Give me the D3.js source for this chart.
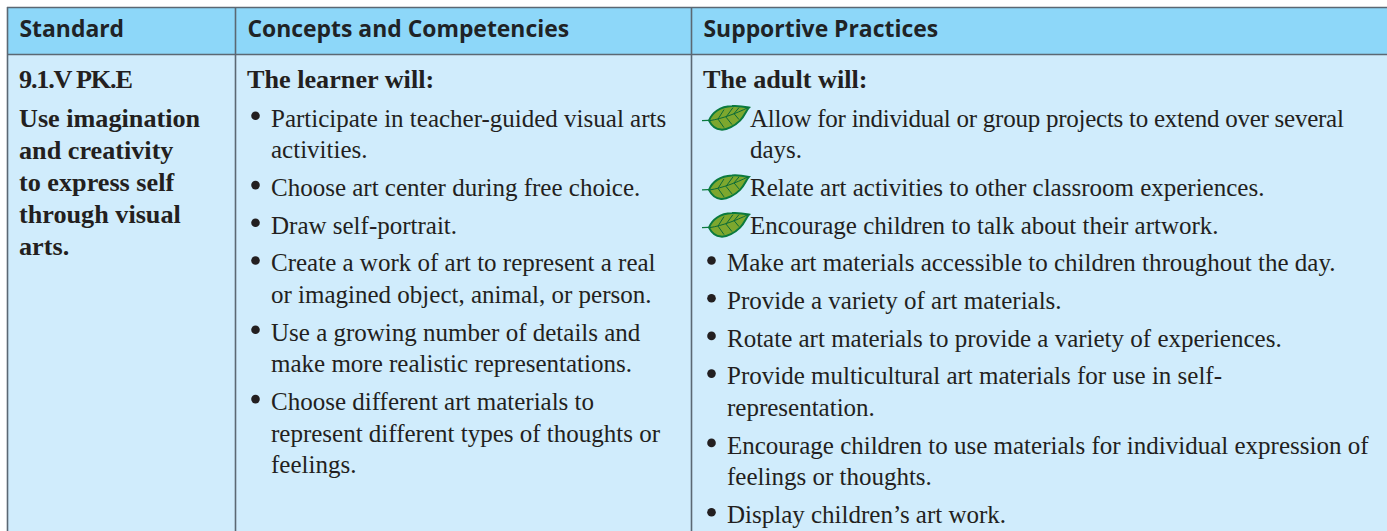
<!DOCTYPE html>
<html>
<head>
<meta charset="utf-8">
<style>
html,body{margin:0;padding:0;background:#fff;overflow:hidden}
.hd{font-family:"Open Sans",sans-serif;font-weight:700;font-size:22.9px;fill:#1f2326}
.bold{font-family:"Liberation Serif",serif;font-weight:700;font-size:26.2px;fill:#231f20}
.body{font-family:"Liberation Serif",serif;font-size:25px;fill:#231f20}
</style>
</head>
<body>
<svg id="chart"></svg>
<script src="https://cdn.jsdelivr.net/npm/d3@7"></script>
<script>
const W = 1387, H = 531;

const columns = ['Standard', 'Concepts and Competencies', 'Supportive Practices'];

const standardLines = ['9.1.V PK.E', 'Use imagination', 'and creativity', 'to express self', 'through visual', 'arts.'];

const learnerHead = 'The learner will:';
const learnerItems = [
  ['Participate in teacher-guided visual arts', 'activities.'],
  ['Choose art center during free choice.'],
  ['Draw self-portrait.'],
  ['Create a work of art to represent a real', 'or imagined object, animal, or person.'],
  ['Use a growing number of details and', 'make more realistic representations.'],
  ['Choose different art materials to', 'represent different types of thoughts or', 'feelings.'],
];

const adultHead = 'The adult will:';
const adultLeafItems = [
  ['Allow for individual or group projects to extend over several', 'days.'],
  ['Relate art activities to other classroom experiences.'],
  ['Encourage children to talk about their artwork.'],
];
const adultItems = [
  ['Make art materials accessible to children throughout the day.'],
  ['Provide a variety of art materials.'],
  ['Rotate art materials to provide a variety of experiences.'],
  ['Provide multicultural art materials for use in self-', 'representation.'],
  ['Encourage children to use materials for individual expression of', 'feelings or thoughts.'],
  ["Display children\u2019s art work."],
];

const LINE = 31.6, PARA = 37.7, TOP = 126.6;

const svg = d3.select('#chart').attr('width', W).attr('height', H).style('display', 'block');

const x = d3.scaleOrdinal().domain(columns).range([7, 235, 691]);
const colRight = d3.scaleOrdinal().domain(columns).range([235, 691, W]);

// bands
svg.selectAll('rect.bg').data(columns).join('rect')
  .attr('x', d => x(d)).attr('y', 54).attr('width', d => colRight(d) - x(d)).attr('height', H - 54)
  .attr('fill', '#d0ecfc');
svg.selectAll('rect.hdbg').data(columns).join('rect')
  .attr('x', d => x(d)).attr('y', 7).attr('width', d => colRight(d) - x(d)).attr('height', 47)
  .attr('fill', '#8dd7f9');

// rules
const rule = '#5b6873';
svg.append('path').attr('d', `M7,7.5H${W}M7,54.5H${W}`).attr('stroke', rule).attr('stroke-width', 1.4).attr('fill', 'none');
svg.selectAll('line.v').data(columns).join('line')
  .attr('x1', d => x(d) + .5).attr('x2', d => x(d) + .5).attr('y1', 7).attr('y2', H)
  .attr('stroke', rule).attr('stroke-width', 1.6);

svg.selectAll('text.hd').data(columns).join('text')
  .attr('class', 'hd').attr('x', d => x(d) + 12.5).attr('y', 37).text(d => d);

// Column 1
svg.selectAll('text.std').data(standardLines).join('text')
  .attr('class', 'bold')
  .attr('x', x(columns[0]) + 12)
  .attr('y', (d, i) => i === 0 ? 88 : TOP + (i - 1) * 32)
  .style('letter-spacing', (d, i) => i === 0 ? '-1.2px' : null)
  .text(d => d);

// turns items into positioned lines
function layout(items, startY) {
  const out = [];
  let y = startY;
  items.forEach((lines, k) => {
    lines.forEach((t, j) => {
      out.push({t, y, first: j === 0, k});
      if (j < lines.length - 1) y += LINE;
    });
    y += PARA;
  });
  return out;
}

function drawList(g, rows, textX, bulletX) {
  g.selectAll('text').data(rows).join('text')
    .attr('class', 'body').attr('x', textX).attr('y', d => d.y).text(d => d.t);
  if (bulletX != null) {
    g.selectAll('circle').data(rows.filter(d => d.first)).join('circle')
      .attr('cx', bulletX).attr('cy', d => d.y - 10.8).attr('r', 4.3).attr('fill', '#231f20');
  }
}

// Column 2
const col2 = x(columns[1]);
svg.append('text').attr('class', 'bold').attr('x', col2 + 12).attr('y', 88).text(learnerHead);
drawList(svg.append('g'), layout(learnerItems, TOP), col2 + 36, col2 + 20.5);

// Column 3
const col3 = x(columns[2]);
svg.append('text').attr('class', 'bold').attr('x', col3 + 12).attr('y', 88).text(adultHead);

const leafRows = layout(adultLeafItems, TOP);
const lastLeafY = leafRows[leafRows.length - 1].y;
const leafText = svg.append('g');
drawList(leafText, leafRows, col3 + 59);
// the first line is set tighter in the original
leafText.selectAll('text').filter(d => d.t.startsWith('Allow')).style('letter-spacing', '-.25px');
drawList(svg.append('g'), layout(adultItems, lastLeafY + PARA), col3 + 36, col3 + 20.5);

// Leaf icons, drawn relative to the text baseline
const leaves = svg.append('g').selectAll('g').data(leafRows.filter(d => d.first)).join('g')
  .attr('transform', d => `translate(${col3 + 11},${d.y - 6})`);
leaves.append('path').attr('d', 'M0,0L12,-.5').attr('stroke', '#0b7a3e').attr('stroke-width', 1.3);
leaves.append('path')
  .attr('d', 'M7,0C10,-8 18,-14 30,-14.5C36,-15 42,-14 47,-13C44,-10 43,-5 38,0C33,5 25,9.5 19,9C12,8.5 9,4 7,0Z')
  .attr('fill', '#7da72e').attr('stroke', '#0b7a3e').attr('stroke-width', 2);
leaves.append('path')
  .attr('d', 'M8,0C20,-2 34,-7 46,-13M16,-1.5L22,-11M24,-3.5L31,-13M32,-7L37,-13M16,-1.5L22,7M24,-3.5L30,4M32,-7L37,-1')
  .attr('fill', 'none').attr('stroke', '#0b6a38').attr('stroke-width', 1);
</script>
</body>
</html>
